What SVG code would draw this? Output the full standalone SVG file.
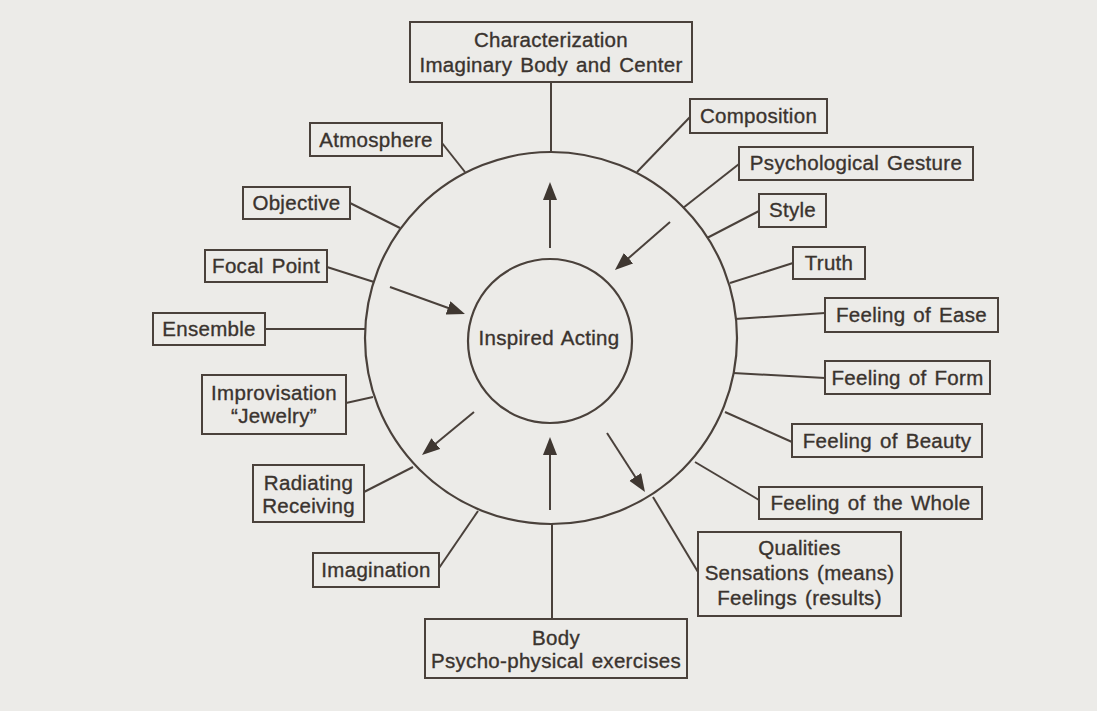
<svg xmlns="http://www.w3.org/2000/svg" width="1097" height="711" viewBox="0 0 1097 711">
<style>
.bx{fill:none;stroke:#4a413b;stroke-width:2}
.ln{fill:none;stroke:#4a413b;stroke-width:2}
.ci{fill:none;stroke:#4a413b;stroke-width:2.2}
.t{font-family:"Liberation Sans",Arial,sans-serif;font-size:20.5px;fill:#3a332e;stroke:#3a332e;stroke-width:0.35px;text-anchor:middle;letter-spacing:0.3px;word-spacing:2px}
</style>
<defs>
<marker id="ah" markerUnits="userSpaceOnUse" markerWidth="20" markerHeight="16" refX="4" refY="7" orient="auto">
<path d="M0,0 L18,7 L0,14 z" fill="#3f3731"/>
</marker>
</defs>
<rect width="1097" height="711" fill="#ecebe8"/>
<g id="connectors">
<line class="ln" x1="551" y1="82" x2="551" y2="152"/>
<line class="ln" x1="442" y1="143" x2="465" y2="172"/>
<line class="ln" x1="350" y1="203" x2="400" y2="228"/>
<line class="ln" x1="327" y1="267" x2="374" y2="282"/>
<line class="ln" x1="265" y1="329" x2="366" y2="329"/>
<line class="ln" x1="346" y1="403" x2="373" y2="397"/>
<line class="ln" x1="364" y1="492" x2="413" y2="467"/>
<line class="ln" x1="439" y1="568" x2="478" y2="511"/>
<line class="ln" x1="552" y1="524" x2="552" y2="619"/>
<line class="ln" x1="698" y1="572" x2="653" y2="497"/>
<line class="ln" x1="690" y1="117" x2="637" y2="172"/>
<line class="ln" x1="739" y1="164" x2="683" y2="208"/>
<line class="ln" x1="759" y1="211" x2="707" y2="238"/>
<line class="ln" x1="793" y1="263" x2="730" y2="283"/>
<line class="ln" x1="825" y1="313" x2="735" y2="319"/>
<line class="ln" x1="825" y1="378" x2="733" y2="373"/>
<line class="ln" x1="792" y1="442" x2="725" y2="412"/>
<line class="ln" x1="759" y1="500" x2="695" y2="462"/>
<line class="ln" x1="550" y1="248" x2="550" y2="196" marker-end="url(#ah)"/>
<line class="ln" x1="670" y1="222" x2="625.5" y2="260.8" marker-end="url(#ah)"/>
<line class="ln" x1="390" y1="287" x2="451.8" y2="309.3" marker-end="url(#ah)"/>
<line class="ln" x1="474" y1="412" x2="432.8" y2="446.1" marker-end="url(#ah)"/>
<line class="ln" x1="550" y1="510" x2="550" y2="451" marker-end="url(#ah)"/>
<line class="ln" x1="607" y1="433" x2="637.4" y2="480.2" marker-end="url(#ah)"/>
</g>
<g id="outer-circle"><circle class="ci" cx="551" cy="338" r="186"/></g>
<g id="inspired-acting">
<circle class="ci" cx="550" cy="341" r="82"/>
<text class="t" x="549" y="345">Inspired Acting</text>
</g>
<g id="characterization">
<rect class="bx" x="410" y="22" width="282" height="60"/>
<text class="t" x="551" y="47">Characterization</text>
<text class="t" x="551" y="72">Imaginary Body and Center</text>
</g>
<g id="atmosphere"><rect class="bx" x="310" y="123" width="132" height="33"/><text class="t" x="376" y="147">Atmosphere</text></g>
<g id="objective"><rect class="bx" x="243" y="187" width="107" height="32"/><text class="t" x="296.5" y="210">Objective</text></g>
<g id="focal-point"><rect class="bx" x="205" y="250" width="122" height="32"/><text class="t" x="266" y="273">Focal Point</text></g>
<g id="ensemble"><rect class="bx" x="153" y="313" width="112" height="32"/><text class="t" x="209" y="336">Ensemble</text></g>
<g id="improvisation"><rect class="bx" x="202" y="375" width="144" height="59"/><text class="t" x="274" y="400">Improvisation</text><text class="t" x="274" y="423">“Jewelry”</text></g>
<g id="radiating"><rect class="bx" x="253" y="465" width="111" height="57"/><text class="t" x="308.5" y="490">Radiating</text><text class="t" x="308.5" y="513">Receiving</text></g>
<g id="imagination"><rect class="bx" x="313" y="553" width="126" height="34"/><text class="t" x="376" y="577">Imagination</text></g>
<g id="body"><rect class="bx" x="425" y="619" width="262" height="59"/><text class="t" x="556" y="645">Body</text><text class="t" x="556" y="668">Psycho-physical exercises</text></g>
<g id="qualities"><rect class="bx" x="698" y="532" width="203" height="84"/><text class="t" x="799.5" y="555">Qualities</text><text class="t" x="799.5" y="580">Sensations (means)</text><text class="t" x="799.5" y="605">Feelings (results)</text></g>
<g id="composition"><rect class="bx" x="690" y="99" width="137" height="34"/><text class="t" x="758.5" y="123">Composition</text></g>
<g id="psychological-gesture"><rect class="bx" x="739" y="147" width="234" height="33"/><text class="t" x="856" y="170">Psychological Gesture</text></g>
<g id="style"><rect class="bx" x="759" y="194" width="67" height="33"/><text class="t" x="792.5" y="217">Style</text></g>
<g id="truth"><rect class="bx" x="793" y="247" width="72" height="32"/><text class="t" x="829" y="270">Truth</text></g>
<g id="feeling-ease"><rect class="bx" x="825" y="298" width="173" height="34"/><text class="t" x="911.5" y="322">Feeling of Ease</text></g>
<g id="feeling-form"><rect class="bx" x="825" y="361" width="165" height="33"/><text class="t" x="907.5" y="385">Feeling of Form</text></g>
<g id="feeling-beauty"><rect class="bx" x="792" y="424" width="190" height="33"/><text class="t" x="887" y="448">Feeling of Beauty</text></g>
<g id="feeling-whole"><rect class="bx" x="759" y="487" width="223" height="32"/><text class="t" x="870.5" y="510">Feeling of the Whole</text></g>
</svg>
